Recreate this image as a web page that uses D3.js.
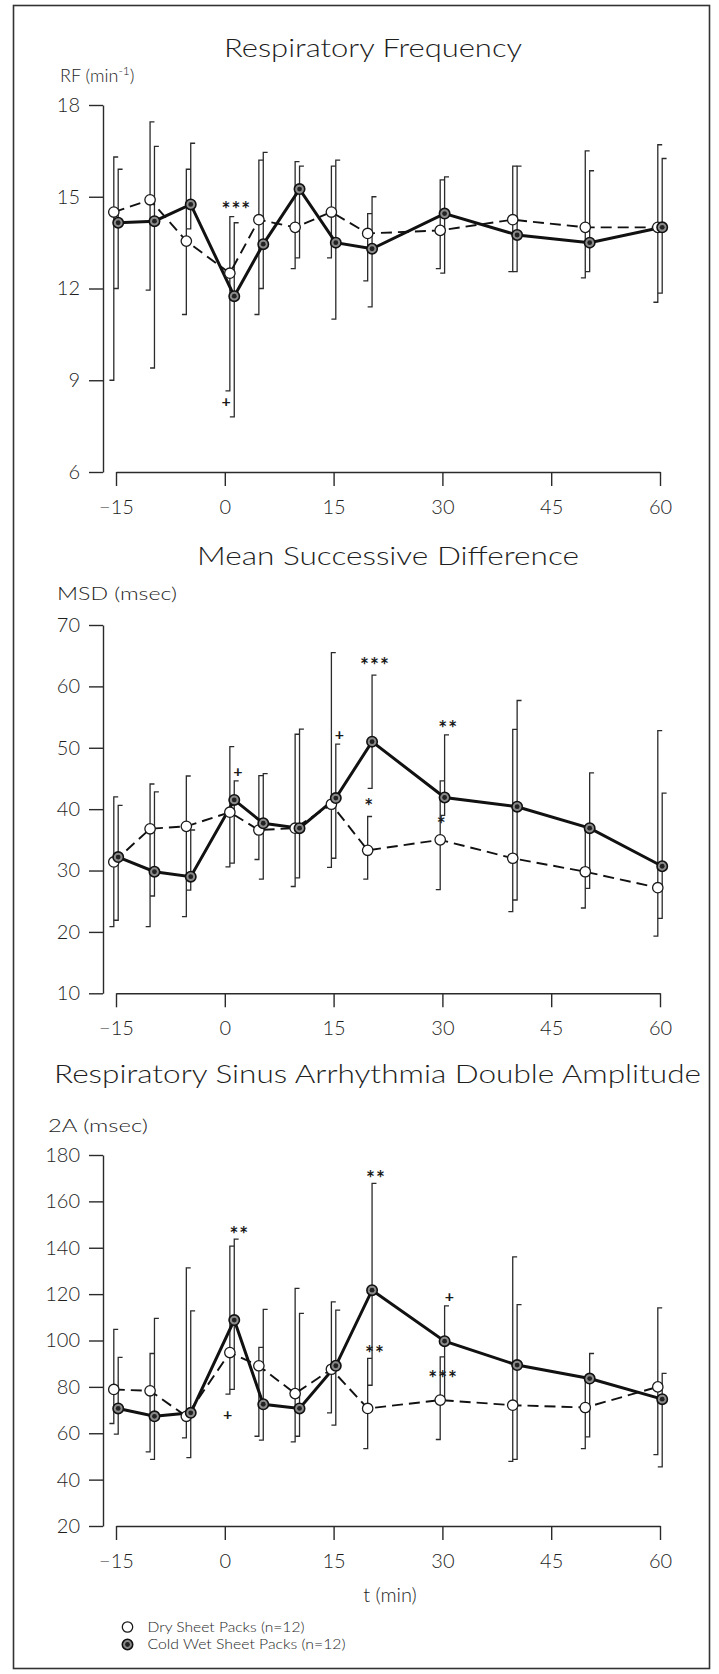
<!DOCTYPE html>
<html>
<head>
<meta charset="utf-8">
<script src="https://cdn.jsdelivr.net/npm/d3@7"></script>
<style>
  body { margin: 0; background: #fff; }
  svg { display: block; font-family: Lato, "Open Sans", sans-serif; font-weight: 300; }
  .axis text { font-size: 20px; fill: #1e1e1e; font-family: Lato, "Open Sans", sans-serif; font-weight: 300; }
  .axis path, .axis line { stroke: #2a2a2a; stroke-width: 1.4; }
</style>
</head>
<body>
<div id="chart"></div>
<script>
// sampling times (min); 0 = start of pack
var times = [-15, -10, -5, 1, 5, 10, 15, 20, 30, 40, 50, 60];
var xTicks = [-15, 0, 15, 30, 45, 60];

// Respiratory Frequency (min-1)
var rfDry    = [14.5, 14.9, 13.55, 12.5, 14.25, 14.0, 14.5, 13.8, 13.9, 14.25, 14.0, 14.0];
var rfDryHi  = [16.3, 17.45, 15.9, 14.35, 16.2, 16.15, 16.0, 14.45, 15.55, 16.0, 16.5, 16.7];
var rfDryLo  = [9.0, 11.95, 11.15, 8.65, 11.15, 12.65, 13.0, 12.25, 12.65, 12.55, 12.35, 11.55];
var rfWet    = [14.15, 14.2, 14.75, 11.75, 13.45, 15.25, 13.5, 13.3, 14.45, 13.75, 13.5, 14.0];
var rfWetHi  = [15.9, 16.65, 16.75, 14.15, 16.45, 16.0, 16.2, 15.0, 15.65, 16.0, 15.85, 16.25];
var rfWetLo  = [12.0, 9.4, 13.95, 7.8, 12.0, 13.0, 11.0, 11.4, 12.5, 12.55, 12.55, 11.85];
var rfTicks  = [6, 9, 12, 15, 18];
var rfMarks  = [
  { t: 1.6, v: 14.7, text: "***" },
  { t: 0.2, v: 8.3, text: "+" }
];

// Mean Successive Difference (msec)
var msdDry   = [31.4, 36.8, 37.2, 39.5, 36.6, 36.9, 40.8, 33.3, 35.0, 32.0, 29.8, 27.2];
var msdDryHi = [42.0, 44.1, 45.4, 50.2, 45.45, 52.2, 65.5, 38.8, 44.6, 53.0, 36.5, 52.8];
var msdDryLo = [20.85, 20.85, 22.5, 30.6, 31.8, 27.4, 30.5, 28.6, 26.9, 23.3, 23.9, 19.3];
var msdWet   = [32.2, 29.8, 29.0, 41.5, 37.7, 36.9, 41.8, 51.0, 41.9, 40.4, 36.9, 30.7];
var msdWetHi = [40.6, 42.8, 36.6, 44.6, 45.8, 53.05, 50.6, 61.85, 52.1, 57.7, 45.9, 42.6];
var msdWetLo = [21.9, 25.85, 26.8, 31.2, 28.6, 28.8, 32.0, 43.4, 39.0, 25.2, 27.1, 22.2];
var msdTicks = [10, 20, 30, 40, 50, 60, 70];
var msdMarks = [
  { t: 1.8, v: 46.1, text: "+" },
  { t: 15.8, v: 52.1, text: "+" },
  { t: 20.7, v: 64.0, text: "***" },
  { t: 19.9, v: 41.0, text: "*" },
  { t: 30.8, v: 53.7, text: "**" },
  { t: 29.9, v: 38.0, text: "*" }
];

// Respiratory Sinus Arrhythmia Double Amplitude (msec)
var raDry    = [78.9, 78.3, 67.3, 94.8, 89.1, 77.1, 87.6, 70.7, 74.3, 72.1, 71.1, 80.0];
var raDryHi  = [104.8, 94.4, 131.3, 140.7, 97.0, 122.5, 116.7, 92.3, 92.9, 136.1, 83.3, 114.1];
var raDryLo  = [64.2, 52.0, 58.0, 76.9, 58.7, 56.3, 68.8, 53.4, 57.3, 47.9, 53.4, 50.8];
var raWet    = [70.7, 67.3, 68.8, 108.8, 72.5, 70.7, 89.1, 121.7, 99.7, 89.4, 83.6, 74.7];
var raWetHi  = [92.7, 109.5, 112.8, 143.7, 113.4, 111.7, 113.1, 167.8, 114.9, 115.5, 94.4, 85.8];
var raWetLo  = [59.6, 48.7, 49.5, 78.9, 57.0, 58.7, 63.5, 80.7, 75.7, 48.7, 58.4, 45.5];
var raTicks  = [20, 40, 60, 80, 100, 120, 140, 160, 180];
var raMarks  = [
  { t: 2.0, v: 147.3, text: "**" },
  { t: 0.4, v: 67.8, text: "+" },
  { t: 20.85, v: 171.4, text: "**" },
  { t: 20.7, v: 96.1, text: "**" },
  { t: 30.95, v: 118.8, text: "+" },
  { t: 30.1, v: 85.3, text: "***" }
];

var seriesNames = ["Dry Sheet Packs (n=12)", "Cold Wet Sheet Packs (n=12)"];

var W = 719, H = 1674;
var svg = d3.select("#chart").append("svg")
    .attr("width", W)
    .attr("height", H);

svg.append("rect")
    .attr("width", W).attr("height", H)
    .attr("fill", "#fff");

// outer frame
svg.append("rect")
    .attr("x", 13.5).attr("y", 5.5)
    .attr("width", 696).attr("height", 1663)
    .attr("fill", "none")
    .attr("stroke", "#333")
    .attr("stroke-width", 1.6);

var x = d3.scaleLinear().domain([-15, 60]).range([116, 660]);
var axisX = 103;     // y axis position
var shift = 2.2;     // horizontal offset between the two groups (px)
var cap = 4.4;

var panels = [
  { title: "Respiratory Frequency", titleX: 373, titleY: 57, titleLen: 298,
    label: "RF", unit: "min", sup: "-1", labelX: 60, labelY: 82, labelLen: 100,
    domain: [6, 18], range: [472, 105], ticks: rfTicks,
    dry: rfDry, dryHi: rfDryHi, dryLo: rfDryLo,
    wet: rfWet, wetHi: rfWetHi, wetLo: rfWetLo, marks: rfMarks },
  { title: "Mean Successive Difference", titleX: 388, titleY: 565, titleLen: 382,
    label: "MSD (msec)", labelX: 57, labelY: 600, labelLen: 120,
    domain: [10, 70], range: [993.3, 625], ticks: msdTicks,
    dry: msdDry, dryHi: msdDryHi, dryLo: msdDryLo,
    wet: msdWet, wetHi: msdWetHi, wetLo: msdWetLo, marks: msdMarks },
  { title: "Respiratory Sinus Arrhythmia Double Amplitude", titleX: 377.5, titleY: 1083, titleLen: 647,
    label: "2A (msec)", labelX: 48, labelY: 1132, labelLen: 100,
    domain: [20, 180], range: [1526, 1155], ticks: raTicks,
    dry: raDry, dryHi: raDryHi, dryLo: raDryLo,
    wet: raWet, wetHi: raWetHi, wetLo: raWetLo, marks: raMarks }
];

panels.forEach(function(p, pi) {
    var y = d3.scaleLinear().domain(p.domain).range(p.range);
    var g = svg.append("g");

    // title
    g.append("text")
        .attr("x", p.titleX)
        .attr("y", p.titleY)
        .attr("text-anchor", "middle")
        .attr("textLength", p.titleLen)
        .attr("lengthAdjust", "spacingAndGlyphs")
        .attr("font-size", 25)
        .attr("fill", "#1e1e1e")
        .text(p.title);

    // y axis label
    var lab = g.append("text")
        .attr("x", p.labelX)
        .attr("y", p.labelY)
        .attr("font-size", 18)
        .attr("fill", "#1e1e1e");
    if (p.sup) {
        lab.append("tspan").text(p.label + " (" + p.unit);
        lab.append("tspan").attr("dy", -7).attr("font-size", 12).text(p.sup);
        lab.append("tspan").attr("dy", 7).text(")");
    } else {
        lab.attr("textLength", p.labelLen)
            .attr("lengthAdjust", "spacingAndGlyphs")
            .text(p.label);
    }

    // axes
    g.append("g")
        .attr("class", "axis")
        .attr("transform", "translate(" + axisX + ",0)")
        .call(d3.axisLeft(y).tickValues(p.ticks).tickSize(14).tickSizeOuter(0).tickPadding(9));

    g.append("g")
        .attr("class", "axis")
        .attr("transform", "translate(0," + p.range[0] + ")")
        .call(d3.axisBottom(x).tickValues(xTicks).tickSize(14).tickSizeOuter(0).tickPadding(14));

    var groups = [
        { mean: p.dry, hi: p.dryHi, lo: p.dryLo, dx: -shift, dry: true },
        { mean: p.wet, hi: p.wetHi, lo: p.wetLo, dx: shift, dry: false }
    ];

    // error bars: top cap points right, bottom cap points left
    groups.forEach(function(s) {
        g.selectAll(null)
            .data(times)
            .enter()
            .append("path")
            .attr("d", function(t, i) {
                var xx = x(t) + s.dx;
                return "M" + (xx + cap) + "," + y(s.hi[i]) +
                       "H" + xx + "V" + y(s.lo[i]) + "H" + (xx - cap);
            })
            .attr("fill", "none")
            .attr("stroke", "#2b2b2b")
            .attr("stroke-width", 1.3);
    });

    // mean lines
    groups.forEach(function(s) {
        var line = d3.line()
            .x(function(t) { return x(t) + s.dx; })
            .y(function(t, i) { return y(s.mean[i]); });
        g.append("path")
            .datum(times)
            .attr("d", line)
            .attr("fill", "none")
            .attr("stroke", "#111")
            .attr("stroke-width", s.dry ? 1.9 : 3)
            .attr("stroke-dasharray", s.dry ? "11,6" : null);
    });

    // markers
    groups.forEach(function(s) {
        var m = g.selectAll(null)
            .data(times)
            .enter()
            .append("g")
            .attr("transform", function(t, i) {
                return "translate(" + (x(t) + s.dx) + "," + y(s.mean[i]) + ")";
            });
        drawMarker(m, s.dry);
    });

    // significance marks
    g.selectAll(null)
        .data(p.marks)
        .enter()
        .append("text")
        .attr("x", function(d) { return x(d.t); })
        .attr("y", function(d) { return y(d.v) + (d.text === "+" ? 5 : 11); })
        .attr("text-anchor", "middle")
        .attr("font-size", function(d) { return d.text === "+" ? 16 : 21; })
        .attr("font-weight", "bold")
        .attr("letter-spacing", function(d) { return d.text === "+" ? 0 : 1; })
        .attr("fill", "#1a1a1a")
        .text(function(d) { return d.text; });
});

function drawMarker(sel, open) {
    if (open) {
        sel.append("circle")
            .attr("r", 5.2)
            .attr("fill", "#fff")
            .attr("stroke", "#1a1a1a")
            .attr("stroke-width", 1.3);
    } else {
        sel.append("circle")
            .attr("r", 5.2)
            .attr("fill", "#8a8a8a")
            .attr("stroke", "#111")
            .attr("stroke-width", 1.6);
        sel.append("circle")
            .attr("r", 2.4)
            .attr("fill", "#222");
    }
}

// x axis title
svg.append("text")
    .attr("x", 390)
    .attr("y", 1602)
    .attr("text-anchor", "middle")
    .attr("font-size", 20)
    .attr("fill", "#1e1e1e")
    .text("t (min)");

// legend
var legend = svg.append("g");
seriesNames.forEach(function(name, i) {
    var row = legend.append("g")
        .attr("transform", "translate(127.5," + (1627 + i * 17.5) + ")");
    var mk = row.append("g");
    drawMarker(mk, i === 0);
    row.append("text")
        .attr("x", 20)
        .attr("y", 4.5)
        .attr("font-size", 13)
        .attr("textLength", i === 0 ? 157 : 198)
        .attr("lengthAdjust", "spacingAndGlyphs")
        .attr("fill", "#1e1e1e")
        .text(name);
});
</script>
</body>
</html>
